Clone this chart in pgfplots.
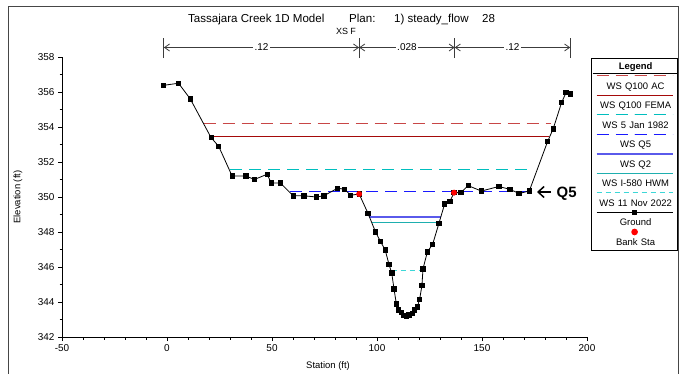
\documentclass[border=0pt]{standalone}
\usepackage{pgfplots}
\pgfplotsset{compat=1.18}
\usepackage{fontspec}
\setmainfont{Liberation Sans}
\usetikzlibrary{arrows.meta}
\definecolor{acred}{RGB}{200,70,70}
\definecolor{femared}{RGB}{165,10,10}
\definecolor{janteal}{RGB}{0,190,190}
\definecolor{qfiveblue}{RGB}{25,25,255}
\definecolor{qtwoblue}{RGB}{90,90,235}
\definecolor{hwmteal}{RGB}{30,175,175}
\definecolor{novteal}{RGB}{60,215,215}
\definecolor{framegray}{RGB}{70,70,70}
\definecolor{nbar}{RGB}{60,60,60}

\begin{document}
\begin{tikzpicture}[x=1bp,y=1bp]
\useasboundingbox (0,0) rectangle (688,373);
\draw[framegray, line width=1bp] (8.5,-3) -- (8.5,366.5) -- (678.5,366.5) -- (678.5,-3);
\begin{axis}[
  at={(62bp,36bp)}, anchor=south west,
  scale only axis, width=525bp, height=280bp,
  xmin=-50, xmax=200, ymin=342, ymax=358,
  axis lines=left, axis line style={-, line width=0.8bp},
  xtick={-50,0,50,100,150,200}, ytick={342,344,346,348,350,352,354,356,358},
  minor x tick num=4, minor y tick num=1,
  tick align=outside, major tick length=4bp, minor tick length=2.5bp,
  tick style={black, line width=0.6bp},
  /pgf/number format/assume math mode=true,
  ticklabel style={font=\fontsize{10}{12}\selectfont},
  xlabel={Station (ft)}, ylabel={Elevation (ft)},
  label style={font=\fontsize{9.5}{11}\selectfont},
  xlabel style={at={(axis description cs:0.5067,-0.1036)}, anchor=center},
  ylabel style={at={(axis description cs:-0.084,0.5)}, anchor=center},
  clip=false,
  legend image code/.code={\path (0,0); \draw[overlay, mark repeat=2, mark phase=2, #1] plot coordinates {(4bp,10.5bp) (42bp,10.5bp) (80bp,10.5bp)};},
  legend style={
    at={(axis description cs:1.0076,0.996)}, anchor=north west,
    draw=black, line width=1.2bp, fill=white,
    inner xsep=0pt, inner ysep=3.5bp,
    /tikz/column sep=0pt,
    /tikz/row sep=10bp,
    nodes={font=\fontsize{9.5}{11}\selectfont, text width=84bp, align=center, inner sep=0pt, text height=7.3bp, text depth=2.2bp},
  },
]
\addlegendimage{legend image code/.code={\path (0,0); \draw[overlay, black, line width=1bp] (0bp,-6.5bp) -- (85bp,-6.5bp);}}
\addlegendentry{\textbf{Legend}}

\addplot[color=acred, dash pattern=on 12bp off 7bp, line width=1bp] coordinates {(17.4,354.2) (183.0,354.2)};
\addlegendentry{WS Q100 AC}
\addplot[femared, line width=1bp] coordinates {(21.0,353.457) (181.9,353.457)};
\addlegendentry{WS Q100 FEMA}
\addplot[color=janteal, dash pattern=on 12bp off 7bp, line width=1bp] coordinates {(30.2,351.571) (172.8,351.571)};
\addlegendentry{WS 5 Jan 1982}
\addplot[color=qfiveblue, dash pattern=on 12bp off 7bp, line width=1bp] coordinates {(58.6,350.314) (172.3,350.314)};
\addlegendentry{WS Q5}
\addplot[qtwoblue, line width=2bp] coordinates {(96.1,348.857) (130.3,348.857)};
\addlegendentry{WS Q2}
\addplot[hwmteal, line width=1bp] coordinates {(97.4,348.543) (129.9,348.543)};
\addlegendentry{WS I-580 HWM}
\addplot[novteal, dash pattern=on 5bp off 4bp, line width=1bp] coordinates {(107.0,345.8) (121.6,345.8)};
\addlegendentry{WS 11 Nov 2022}

\addplot[black, line width=0.8bp, mark=square*, mark size=2.2bp, mark options={solid}] coordinates {
(-1.7,356.38) (5.5,356.5) (11.1,355.6) (21.0,353.39) (24.6,352.9) (31.0,351.2)
(37.6,351.2) (41.6,351.0) (47.7,351.3) (49.6,350.8) (54.0,350.8) (60.1,350.07)
(65.1,350.07) (71.2,350.0) (74.7,350.07) (81.2,350.5) (84.6,350.44) (87.4,350.1)
(91.5,350.17) (95.7,349.07) (99.3,348.0) (101.7,347.45) (103.9,346.97) (105.7,346.15)
(107.0,345.67) (108.1,344.74) (109.2,343.9) (110.3,343.54) (111.6,343.41) (112.8,343.25)
(114.1,343.2) (115.2,343.26) (116.8,343.35) (117.9,343.54) (119.2,343.73) (120.3,344.15)
(121.4,344.95) (121.9,345.9) (124.0,346.87) (126.5,347.3) (129.5,348.5) (132.2,349.6)
(134.7,349.75) (136.7,350.25) (139.9,350.25) (143.4,350.65) (149.7,350.34) (158.0,350.6)
(163.3,350.44) (167.6,350.2) (172.5,350.34) (181.2,353.16) (183.9,353.9) (187.9,355.4)
(190.0,355.96) (192.0,355.9)
};
\addlegendentry{Ground}
\addplot[only marks, red, mark=*, mark size=2.7bp] coordinates {(91.5,350.17) (136.7,350.25)};
\addlegendentry{Bank Sta}

% Manning's n bar
\draw[nbar, line width=0.9bp] (axis cs:-1.5,357.93) -- (axis cs:-1.5,359.07);
\draw[nbar, line width=0.9bp] (axis cs:91.5,357.93) -- (axis cs:91.5,359.07);
\draw[nbar, line width=0.9bp] (axis cs:137.0,357.93) -- (axis cs:137.0,359.07);
\draw[nbar, line width=0.9bp] (axis cs:192.0,357.93) -- (axis cs:192.0,359.07);
\draw[nbar, line width=0.8bp, {Straight Barb[length=5bp,width=7bp]}-{Straight Barb[length=5bp,width=7bp]}] (axis cs:-1.5,358.543) -- node[fill=white, text=black, inner sep=1.5bp, font=\fontsize{10}{12}\selectfont]{.12} (axis cs:91.5,358.543);
\draw[nbar, line width=0.8bp, {Straight Barb[length=5bp,width=7bp]}-{Straight Barb[length=5bp,width=7bp]}] (axis cs:91.5,358.543) -- node[fill=white, text=black, inner sep=1.5bp, font=\fontsize{10}{12}\selectfont]{.028} (axis cs:137.0,358.543);
\draw[nbar, line width=0.8bp, {Straight Barb[length=5bp,width=7bp]}-{Straight Barb[length=5bp,width=7bp]}] (axis cs:137.0,358.543) -- node[fill=white, text=black, inner sep=1.5bp, font=\fontsize{10}{12}\selectfont]{.12} (axis cs:192.0,358.543);
\end{axis}

\node[anchor=base west, font=\fontsize{11.6}{13}\selectfont, inner sep=0pt] at (188,350.7) {Tassajara Creek 1D Model};
\node[anchor=base west, font=\fontsize{11.6}{13}\selectfont, inner sep=0pt] at (349,350.7) {Plan:};
\node[anchor=base west, font=\fontsize{11.6}{13}\selectfont, inner sep=0pt] at (394,350.7) {1) steady\_flow};
\node[anchor=base west, font=\fontsize{11.6}{13}\selectfont, inner sep=0pt] at (482,350.7) {28};
\node[anchor=base, font=\fontsize{9}{11}\selectfont, inner sep=0pt] at (346,338.5) {XS F};
\draw[black, line width=1.5bp, -{Straight Barb[length=6bp,width=11bp,line width=1.5bp]}] (551,181) -- (537,181);
\node[anchor=base west, font=\bfseries\fontsize{15}{17}\selectfont, inner sep=0pt] at (556.5,175.6) {Q5};
\end{tikzpicture}
\end{document}
